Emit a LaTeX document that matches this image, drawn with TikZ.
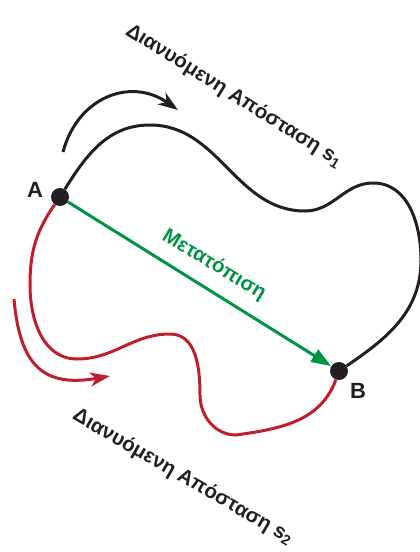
\documentclass[tikz,border=0pt]{standalone}
\usepackage{fontspec}
\setmainfont{Liberation Sans}
\usetikzlibrary{arrows.meta,backgrounds}
\definecolor{inkblack}{RGB}{35,31,32}
\definecolor{pathred}{RGB}{190,30,45}
\definecolor{shiftgreen}{RGB}{0,148,68}

\begin{document}
\begin{tikzpicture}[
    x=1pt, y=1pt,
    point/.style={circle, fill=inkblack, minimum size=18pt, inner sep=0pt},
    pointname/.style={font=\bfseries\fontsize{22}{24}\selectfont, text=inkblack},
    caption/.style={font=\bfseries\fontsize{20.5}{23}\selectfont, text=inkblack},
    route/.style={line width=3pt},
    motion/.style={line width=3pt, -{Stealth[length=20pt, width=14pt, inset=6pt]}},
    displacement/.style={line width=3pt, shiftgreen, -{Triangle[length=20pt, width=14pt]}}
]
    \useasboundingbox (0,0) rectangle (420,-552);
    \clip (0,0) rectangle (420,-552);

    \node[point] (A) at (60,-197) {};
    \node[point] (B) at (339,-371) {};
    \node[pointname] (labelA) at (35,-190) {A};
    \node[pointname] (labelB) at (358,-391) {B};

    \coordinate (arcTopStart) at (63,-152);
    \coordinate (arcTopEnd) at (178,-110);
    \coordinate (arcLowStart) at (14,-299);
    \coordinate (arcLowEnd) at (110,-376);

    \begin{scope}[on background layer]
        \draw[route, inkblack] (A) to[out=58,in=180] (150,-125) to[out=0,in=180] (305,-211)
            to[out=0,in=180] (373,-183) to[out=0,in=90] (421,-260) to[out=-90,in=34] (B);
        \draw[route, pathred] (A) to[out=235,in=90] (30,-285) to[out=-90,in=180] (77,-359)
            to[out=0,in=180] (170,-334) to[out=0,in=90] (200,-395) to[out=-90,in=180] (236,-435)
            to[out=8,in=250] (B);
        \draw[displacement] (A) -- (B);
    \end{scope}

    \draw[motion, inkblack] (arcTopStart) to[out=75,in=145,looseness=1.2] (arcTopEnd);
    \draw[motion, pathred] (arcLowStart) to[out=-85,in=190,looseness=1.4] (arcLowEnd);

    \node[caption, rotate=-32] (distTop) at (234,-96) {Διανυόμενη Απόσταση s\textsubscript{1}};
    \node[caption, rotate=-30] (distLow) at (183,-477) {Διανυόμενη Απόσταση s\textsubscript{2}};
    \node[caption, rotate=-31, text=shiftgreen] (shiftLabel) at (214,-265) {Μετατόπιση};
\end{tikzpicture}
\end{document}
